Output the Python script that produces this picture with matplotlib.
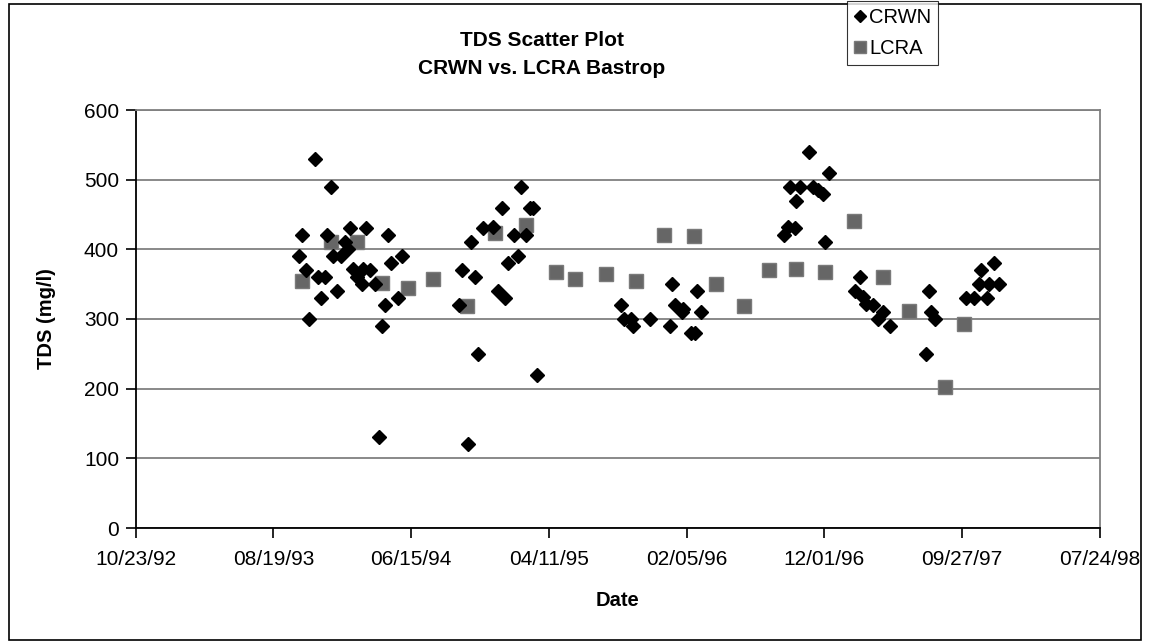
import pandas as pd
import matplotlib.pyplot as plt
import matplotlib.dates as mdates
from matplotlib.patches import Rectangle

plt.rcParams['font.family'] = ['Liberation Sans', 'DejaVu Sans']

# === Data ===
crwn_dates = [
    "1993-10-14", "1993-10-21", "1993-10-28", "1993-11-04", "1993-11-17", "1993-11-25",
    "1993-11-30", "1993-12-09", "1993-12-14", "1993-12-22", "1993-12-27", "1994-01-05",
    "1994-01-14", "1994-01-22", "1994-01-28", "1994-02-02", "1994-02-09", "1994-02-16",
    "1994-02-27", "1994-03-01", "1994-03-08", "1994-03-17", "1994-03-28", "1994-04-06",
    "1994-04-13", "1994-04-19", "1994-04-26", "1994-05-03", "1994-05-18", "1994-05-25",
    "1994-09-28", "1994-10-03", "1994-10-17", "1994-10-24", "1994-11-01", "1994-11-08",
    "1994-11-19", "1994-12-11", "1994-12-21", "1994-12-29", "1995-01-05", "1995-01-12",
    "1995-01-25", "1995-02-02", "1995-02-09", "1995-02-21", "1995-02-28", "1995-03-08",
    "1995-03-15",
    "1995-09-15", "1995-09-22", "1995-10-06", "1995-10-11", "1995-11-17", "1995-12-30",
    "1996-01-03", "1996-01-10", "1996-01-25", "1996-01-28", "1996-02-15", "1996-02-23",
    "1996-02-28", "1996-03-06",
    "1996-09-03", "1996-09-13", "1996-09-16", "1996-09-27", "1996-10-01", "1996-10-08",
    "1996-10-29", "1996-11-05", "1996-11-17", "1996-11-27", "1996-12-03", "1996-12-10",
    "1997-02-05", "1997-02-17", "1997-02-23", "1997-03-02", "1997-03-17", "1997-03-28",
    "1997-04-08", "1997-04-22", "1997-07-09", "1997-07-16", "1997-07-22", "1997-07-29",
    "1997-10-06", "1997-10-22", "1997-11-03", "1997-11-06", "1997-11-20", "1997-11-24",
    "1997-12-05", "1997-12-16",
]
crwn_tds = [
    390, 420, 370, 300, 530, 360,
    330, 360, 420, 490, 390, 340,
    390, 410, 400, 430, 372, 360,
    350, 372, 430, 370, 350, 130,
    290, 320, 420, 380, 330, 390,
    320, 370, 120, 410, 360, 250,
    430, 432, 340, 460, 330, 380,
    420, 390, 490, 420, 460, 460,
    220,
    320, 300, 300, 290, 300, 290,
    350, 320, 310, 315, 280, 280,
    340, 310,
    420, 432, 490, 430, 470, 490,
    540, 490, 485, 480, 410, 510,
    340, 360, 332, 322, 320, 300,
    310, 290, 250, 340, 310, 300,
    330, 330, 350, 370, 330, 350,
    380, 350,
]

lcra_dates = [
    "1993-10-21", "1993-12-22", "1994-02-16", "1994-04-13", "1994-06-07", "1994-08-01",
    "1994-10-14", "1994-12-14", "1995-02-21", "1995-04-26", "1995-06-06", "1995-08-14",
    "1995-10-17", "1995-12-18", "1996-02-20", "1996-04-08", "1996-06-09", "1996-08-02",
    "1996-10-01", "1996-12-03", "1997-02-03", "1997-04-07", "1997-06-03", "1997-08-20",
    "1997-09-30",
]
lcra_tds = [
    355, 410, 410, 352, 345, 358,
    318, 423, 435, 368, 358, 365,
    355, 420, 419, 350, 318, 370,
    372, 367, 440, 360, 312, 202,
    293,
]

x_start = pd.Timestamp("1992-10-23")
x_end = pd.Timestamp("1998-07-24")
y_ticks = [0, 100, 200, 300, 400, 500, 600]

# === Plot ===
fig = plt.figure(figsize=(11.5, 6.44), dpi=100)
ax = fig.add_axes([135.7 / 1150, 1 - 528 / 644, (1100 - 135.7) / 1150, 418 / 644])

ax.plot(pd.to_datetime(crwn_dates), crwn_tds, linestyle='none', marker='D',
        markersize=7.6, color='black', label='CRWN', zorder=3)
ax.plot(pd.to_datetime(lcra_dates), lcra_tds, linestyle='none', marker='s',
        markersize=10, color='#666666', markeredgecolor='#7a7a7a', label='LCRA', zorder=2)

ax.set_xlim(x_start, x_end)
ax.set_ylim(0, 600)
ax.set_yticks(y_ticks)
ax.set_xticks(pd.date_range(x_start, x_end, freq='300D'))
ax.xaxis.set_major_formatter(mdates.DateFormatter('%m/%d/%y'))
ax.tick_params(axis='both', labelsize=15, length=7, width=1.2, color='black', direction='out')
ax.tick_params(axis='x', pad=9)
ax.tick_params(axis='y', pad=5)

ax.grid(axis='y', color='#808080', linewidth=1.3)
ax.set_axisbelow(True)
for side in ['left', 'bottom']:
    ax.spines[side].set_color('black')
    ax.spines[side].set_linewidth(1.3)
for side in ['top', 'right']:
    ax.spines[side].set_color('#808080')
    ax.spines[side].set_linewidth(1.3)

ax.set_ylabel('TDS (mg/l)', fontsize=14.5, fontweight='bold', labelpad=20)
ax.set_xlabel('Date', fontsize=14.5, fontweight='bold', labelpad=16)

fig.text(542 / 1150, 1 - 40 / 644, 'TDS Scatter Plot', ha='center', va='center',
         fontsize=15, fontweight='bold')
fig.text(542 / 1150, 1 - 68 / 644, 'CRWN vs. LCRA Bastrop', ha='center', va='center',
         fontsize=15, fontweight='bold')

leg = fig.legend(loc='upper left', bbox_to_anchor=(847 / 1150, 1 - 1 / 644), fontsize=14.5,
                 frameon=True, fancybox=False, edgecolor='black', handlelength=0.6,
                 handletextpad=0.15, borderpad=0.35, labelspacing=0.6, markerscale=0.85,
                 borderaxespad=0)
leg.get_frame().set_linewidth(0.8)

# outer chart frame
fig.patches.append(Rectangle((9 / 1150, 4 / 644), 1132 / 1150, 636 / 644, transform=fig.transFigure,
                             fill=False, edgecolor='black', linewidth=1.2))

fig.savefig('out.png', dpi=100)
